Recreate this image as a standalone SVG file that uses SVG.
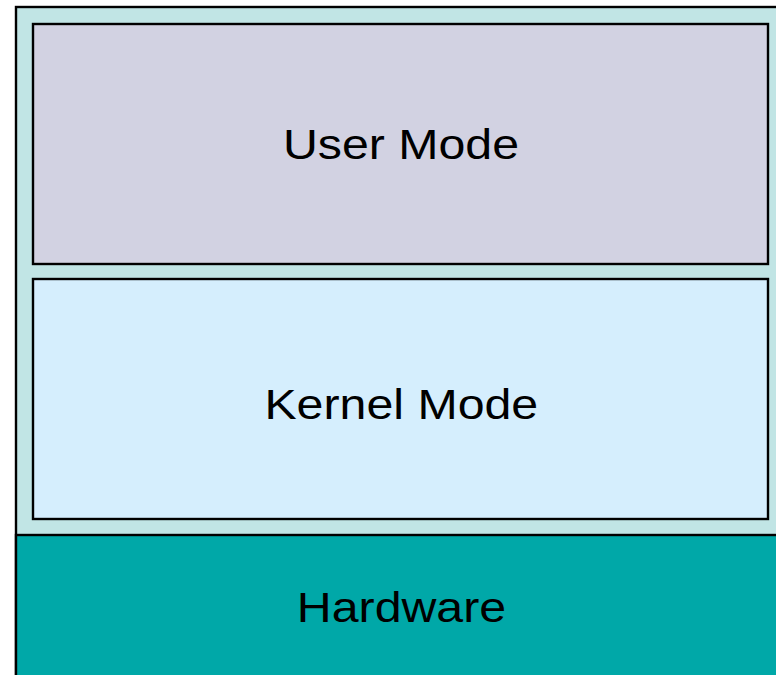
<svg xmlns="http://www.w3.org/2000/svg" width="776" height="675" viewBox="0 0 776 675">
<style>
.box{stroke:#000;stroke-width:2.4}
.lbl{font-family:"Liberation Sans",Arial,sans-serif;font-size:42px;fill:#000;text-anchor:middle}
</style>
<rect width="776" height="675" fill="#fff"/>
<g id="system">
<rect class="box" x="16" y="7" width="780" height="690" fill="#C1E5E5"/>
</g>
<g id="user-mode">
<rect class="box" x="33" y="24" width="735" height="240" fill="#D2D2E2"/>
<text class="lbl" transform="translate(401,159) scale(1.15,1)" x="0" y="0">User Mode</text>
</g>
<g id="kernel-mode">
<rect class="box" x="33" y="279" width="735" height="240" fill="#D5EEFD"/>
<text class="lbl" transform="translate(401.3,419) scale(1.15,1)" x="0" y="0">Kernel Mode</text>
</g>
<g id="hardware">
<rect class="box" x="16" y="535" width="780" height="160" fill="#00A8A8"/>
<text class="lbl" transform="translate(401.5,622) scale(1.15,1)" x="0" y="0">Hardware</text>
</g>
<g id="connectors"></g>
</svg>
